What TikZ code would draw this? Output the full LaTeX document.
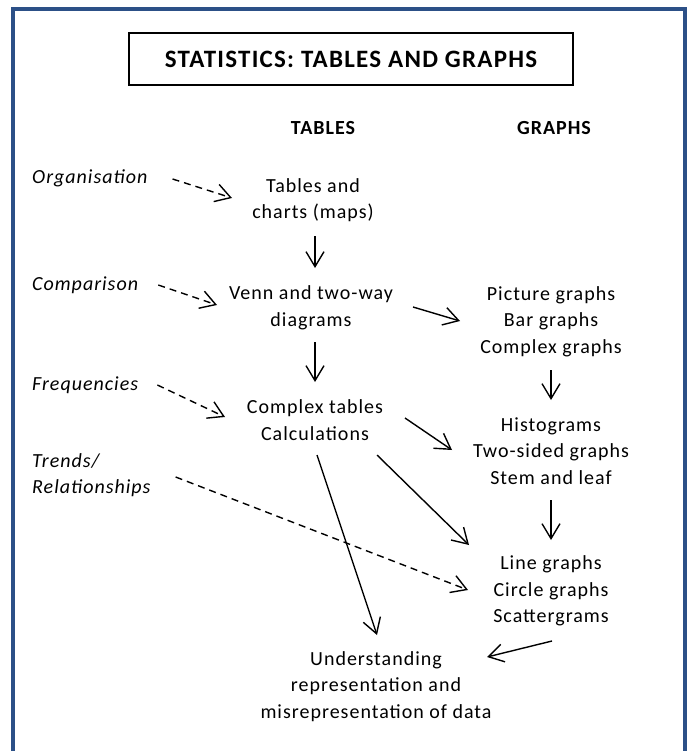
\documentclass[tikz,border=0pt]{standalone}
\usepackage{fontspec}
\setmainfont{Carlito}[LetterSpace=5]
\usetikzlibrary{arrows.meta}

\definecolor{frameblue}{RGB}{44,80,135}

\tikzset{
  txt/.style={align=center, inner sep=0pt, font=\fontsize{20}{26.5}\selectfont},
  side/.style={align=left, anchor=west, inner sep=0pt, font=\fontsize{20}{26.5}\selectfont\itshape},
  head/.style={inner sep=0pt, font=\fontsize{20}{24}\selectfont\bfseries},
  arr/.style={-{Straight Barb[length=15pt,width=18pt]}, line width=1.4pt},
  darr/.style={arr, dash pattern=on 7pt off 5pt},
}

\begin{document}
\begin{tikzpicture}[x=1pt, y=-1pt]
\useasboundingbox (0,0) rectangle (692,751);
% outer frame, open at the bottom
\draw[frameblue, line width=4pt] (13.3,790) |- (685.3,9.3) -- (685.3,790);

\node[draw, line width=1.3pt, minimum width=444pt, minimum height=52pt,
  font=\fontsize{25}{28}\selectfont\bfseries] (title) at (351,59) {STATISTICS: TABLES AND GRAPHS};

\node[head] (tabhead) at (323,128) {TABLES};
\node[head] (graphead) at (554,128) {GRAPHS};

% tables column
\node[txt] (charts) at (313,200) {Tables and\\charts (maps)};
\node[txt] (venn) at (311,308) {Venn and two-way\\diagrams};
\node[txt] (complex) at (315,420) {Complex tables\\Calculations};

% graphs column
\node[txt] (picture) at (551,321.5) {Picture graphs\\Bar graphs\\Complex graphs};
\node[txt] (histo) at (551,451) {Histograms\\Two-sided graphs\\Stem and leaf};
\node[txt] (linegr) at (551,591) {Line graphs\\Circle graphs\\Scattergrams};

\node[txt] (underst) at (376,686.5) {Understanding\\representation and\\misrepresentation of data};

% side labels
\node[side] (organ) at (32,178) {Organisation};
\node[side] (compar) at (32,285) {Comparison};
\node[side] (freq) at (32,385) {Frequencies};
\node[side] (trends) at (32,475) {Trends/\\Relationships};

% dashed links from the side labels
\draw[darr] ([shift={(25,1)}]organ.east) -- ([shift={(-81,-2)}]charts.center);
\draw[darr] ([shift={(20,0)}]compar.east) -- ([shift={(-94,-3)}]venn.center);
\draw[darr] ([shift={(19,0)}]freq.east) -- ([shift={(-90,-3)}]complex.center);
\draw[darr] ([shift={(25,2)}]trends.east) -- ([shift={(-83,-1)}]linegr.center);

% down the tables column
\draw[arr] ([shift={(2,36)}]charts.center) -- ([shift={(4,-40)}]venn.center);
\draw[arr] ([shift={(4,34)}]venn.center) -- ([shift={(0,-38)}]complex.center);

% down the graphs column
\draw[arr] ([shift={(0,48.5)}]picture.center) -- ([shift={(0,-51)}]histo.center);
\draw[arr] ([shift={(0,49)}]histo.center) -- ([shift={(0,-51)}]linegr.center);

% across
\draw[arr] ([shift={(102,-1)}]venn.center) -- ([shift={(-91,-0.5)}]picture.center);
\draw[arr] ([shift={(90,-2)}]complex.center) -- ([shift={(-99,-1)}]histo.center);
\draw[arr] ([shift={(62,35)}]complex.center) -- ([shift={(-82,-46)}]linegr.center);
\draw[arr] ([shift={(2,35)}]complex.center) -- ([shift={(1,-51.5)}]underst.center);
\draw[arr] ([shift={(1,50)}]linegr.center) -- ([shift={(111,-29.5)}]underst.center);
\end{tikzpicture}
\end{document}
